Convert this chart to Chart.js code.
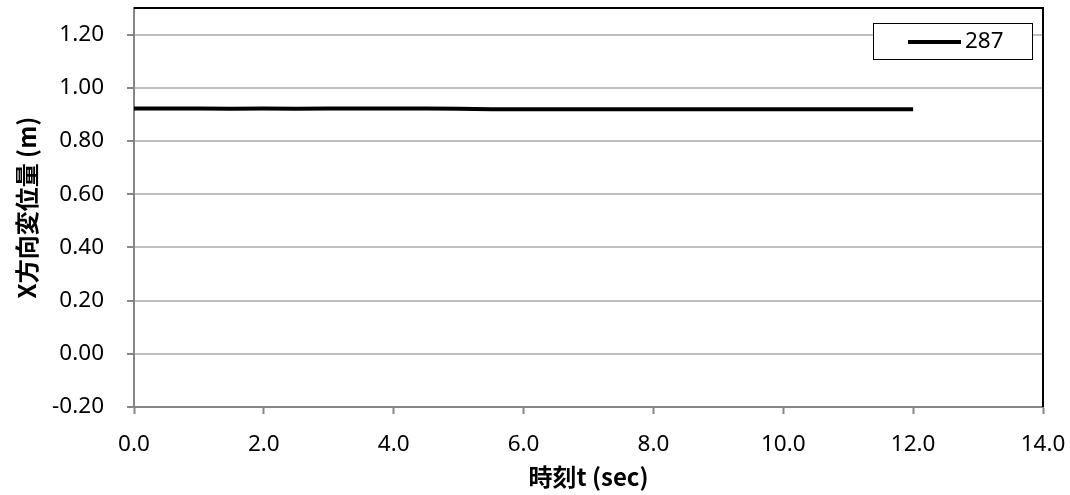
<!DOCTYPE html>
<html>
<head>
<meta charset="utf-8">
<script src="https://cdn.jsdelivr.net/npm/chart.js@4.4.0/dist/chart.umd.min.js"></script>
<style>
    html, body { margin: 0; padding: 0; background: #ffffff; }
    #wrap { width: 1070px; height: 495px; }
</style>
</head>
<body>
<div id="wrap"><canvas id="chart" width="1070" height="495"></canvas></div>
<script>
// Data
const seriesName = '287';
const timeSec = [0.0, 0.5, 1.0, 1.5, 2.0, 2.5, 3.0, 3.5, 4.0, 4.5, 5.0, 5.5, 6.0,
                 6.5, 7.0, 7.5, 8.0, 8.5, 9.0, 9.5, 10.0, 10.5, 11.0, 11.5, 12.0];
const dispX = [0.922, 0.922, 0.922, 0.921, 0.922, 0.921, 0.922, 0.922, 0.922, 0.922, 0.921, 0.919, 0.919,
               0.919, 0.919, 0.919, 0.919, 0.919, 0.919, 0.919, 0.919, 0.919, 0.919, 0.919, 0.919];
const yTicks = [-0.2, 0.0, 0.2, 0.4, 0.6, 0.8, 1.0, 1.2];
const xTicks = [0, 2, 4, 6, 8, 10, 12, 14];

const tickFont = { family: '"Noto Sans", sans-serif', size: 22.5 };
const titleFont = { family: '"Noto Sans CJK JP", "Noto Sans", sans-serif', size: 24, weight: 'bold' };
const axisGrey = '#868686';

// Frame (top/right) and boxed legend like the Excel original
const framePlugin = {
    id: 'frame',
    afterDraw(chart) {
        const { ctx, chartArea } = chart;
        ctx.save();
        ctx.strokeStyle = '#000000';
        ctx.lineWidth = 2;
        ctx.beginPath();
        ctx.moveTo(chartArea.left, chartArea.top);
        ctx.lineTo(chartArea.right, chartArea.top);
        ctx.lineTo(chartArea.right, chartArea.bottom);
        ctx.stroke();

        // legend box
        const ds = chart.data.datasets[0];
        const boxRight = chartArea.right - 11;
        const boxW = 159, boxH = 36;
        const boxX = boxRight - boxW, boxY = chartArea.top + 15;
        ctx.fillStyle = '#ffffff';
        ctx.fillRect(boxX, boxY, boxW, boxH);
        ctx.lineWidth = 1;
        ctx.strokeStyle = '#000000';
        ctx.strokeRect(boxX + 0.5, boxY + 0.5, boxW, boxH);
        const midY = boxY + boxH / 2 + 1;
        ctx.strokeStyle = ds.borderColor;
        ctx.lineWidth = ds.borderWidth;
        ctx.beginPath();
        ctx.moveTo(boxX + 35, midY);
        ctx.lineTo(boxX + 88, midY);
        ctx.stroke();
        ctx.fillStyle = '#000000';
        ctx.font = `${tickFont.size}px ${tickFont.family}`;
        ctx.textBaseline = 'middle';
        ctx.textAlign = 'left';
        ctx.fillText(ds.label, boxX + 92, midY);
        ctx.restore();
    }
};

new Chart(document.getElementById('chart'), {
    type: 'line',
    data: {
        datasets: [{
            label: seriesName,
            data: timeSec.map((t, i) => ({ x: t, y: dispX[i] })),
            borderColor: '#000000',
            borderWidth: 4,
            pointRadius: 0,
            tension: 0,
            fill: false
        }]
    },
    options: {
        responsive: false,
        animation: false,
        layout: { padding: { top: 8, right: 27, left: 0, bottom: 0 } },
        plugins: {
            legend: { display: false },
            tooltip: { enabled: false }
        },
        scales: {
            x: {
                type: 'linear',
                min: 0,
                max: 14,
                afterBuildTicks: scale => { scale.ticks = xTicks.map(v => ({ value: v })); },
                afterFit: scale => {
                    scale.height = 88;
                    scale.paddingLeft = 0;
                    scale.paddingRight = 0;
                },
                ticks: {
                    color: '#000000',
                    font: tickFont,
                    padding: 17,
                    maxRotation: 0,
                    callback: v => v.toFixed(1)
                },
                grid: {
                    drawOnChartArea: false,
                    drawTicks: true,
                    tickLength: 7,
                    tickColor: axisGrey,
                    tickWidth: 2
                },
                border: { color: axisGrey, width: 2 },
                title: {
                    display: true,
                    text: '時刻t (sec)',
                    color: '#000000',
                    font: titleFont,
                    padding: { top: 0, bottom: 4 }
                }
            },
            y: {
                type: 'linear',
                min: -0.2,
                max: 1.3,
                afterBuildTicks: scale => { scale.ticks = yTicks.map(v => ({ value: v })); },
                afterFit: scale => {
                    scale.width = 134;
                    scale.paddingTop = 0;
                    scale.paddingBottom = 0;
                },
                ticks: {
                    color: '#000000',
                    font: tickFont,
                    padding: 23,
                    callback: v => v.toFixed(2)
                },
                grid: {
                    color: '#c0c0c0',
                    lineWidth: 2,
                    drawTicks: true,
                    tickLength: 7,
                    tickColor: axisGrey,
                    tickWidth: 2
                },
                border: { color: axisGrey, width: 2 },
                title: {
                    display: true,
                    text: 'X方向変位量 (m)',
                    color: '#000000',
                    font: titleFont,
                    padding: { top: 12, bottom: 0 }
                }
            }
        }
    },
    plugins: [framePlugin]
});
</script>
</body>
</html>
